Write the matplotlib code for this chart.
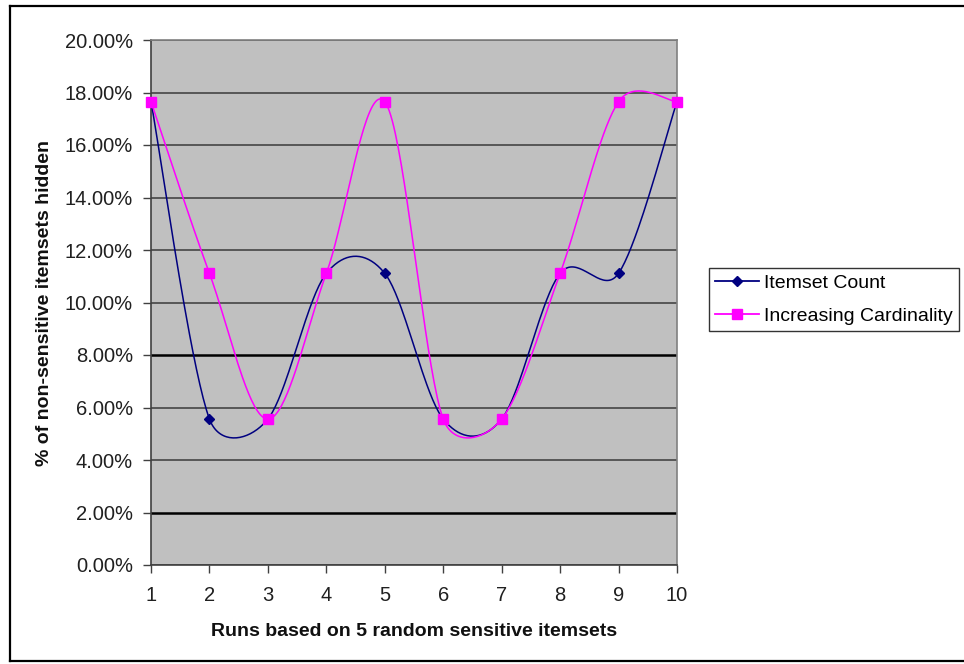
import matplotlib
import numpy as np

matplotlib.use("Agg")
import matplotlib.pyplot as plt  # noqa: E402
from matplotlib.lines import Line2D  # noqa: E402
from matplotlib.ticker import FuncFormatter, MultipleLocator  # noqa: E402

runs = [1, 2, 3, 4, 5, 6, 7, 8, 9, 10]
itemset_count = [17.65, 5.56, 5.56, 11.11, 11.11, 5.56, 5.56, 11.11, 11.11, 17.65]
increasing_cardinality = [17.65, 11.11, 5.56, 11.11, 17.65, 5.56, 5.56, 11.11, 17.65, 17.65]
series_names = ["Itemset Count", "Increasing Cardinality"]
x_label = "Runs based on 5 random sensitive itemsets"
y_label = "% of non-sensitive itemsets hidden"

BLUE = "#000080"
MAGENTA = "#FF00FF"

plt.rcParams["font.family"] = ["Liberation Sans", "DejaVu Sans"]


def excel_smooth(ax, xs, ys, steps=40):
    # Excel-like smoothed line: cubic Bezier in screen space, control arm
    # = 1/6 of the neighbour chord, capped at half the segment length
    pts = ax.transData.transform(np.column_stack([xs, ys]))
    n = len(pts)
    curve = [pts[0]]
    ts = np.linspace(0, 1, steps)[1:, None]
    for i in range(n - 1):
        p0 = pts[max(i - 1, 0)]
        p1 = pts[i]
        p2 = pts[i + 1]
        p3 = pts[min(i + 2, n - 1)]
        d12 = np.hypot(*(p2 - p1))
        arms = []
        for arm in ((p2 - p0) / 6.0, (p3 - p1) / 6.0):
            length = np.hypot(*arm)
            if length > d12 / 2:
                arm = arm * (d12 / 2) / length
            arms.append(arm)
        c1 = p1 + arms[0]
        c2 = p2 - arms[1]
        seg = ((1 - ts) ** 3) * p1 + 3 * ((1 - ts) ** 2) * ts * c1 \
            + 3 * (1 - ts) * ts ** 2 * c2 + ts ** 3 * p2
        curve.extend(seg)
    curve = np.array(curve)
    return ax.transData.inverted().transform(curve).T


fig = plt.figure(figsize=(9.64, 6.64), dpi=100)
ax = fig.add_axes([151 / 964, 1 - 565 / 664, 526 / 964, 525 / 664])
ax.set_facecolor("#C0C0C0")
ax.set_xlim(1, 10)
ax.set_ylim(0, 20)

ax.yaxis.set_major_locator(MultipleLocator(2))
ax.xaxis.set_major_locator(MultipleLocator(1))
ax.yaxis.set_major_formatter(FuncFormatter(lambda v, _: f"{v:.2f}%"))
ax.xaxis.set_major_formatter(FuncFormatter(lambda v, _: f"{int(v)}"))

ax.set_axisbelow(True)
ax.yaxis.grid(True, color="#3a3a3a", linewidth=1.1)
for value, line in zip(ax.get_yticks(), ax.get_ygridlines()):
    if abs(value - 2) < 1e-6 or abs(value - 8) < 1e-6:
        line.set_color("#000000")
        line.set_linewidth(1.8)

for name in ("top", "right"):
    ax.spines[name].set_color("#808080")
    ax.spines[name].set_linewidth(1.2)
for name in ("left", "bottom"):
    ax.spines[name].set_color("#404040")
    ax.spines[name].set_linewidth(1.2)

ax.tick_params(axis="y", direction="out", length=6, width=1, pad=7,
               labelsize=14.5, labelcolor="#202020", color="#404040")
ax.tick_params(axis="x", direction="out", length=6, width=1, pad=9,
               labelsize=14.5, labelcolor="#202020", color="#404040")

for values, color, marker, size in (
    (itemset_count, BLUE, "D", 5),
    (increasing_cardinality, MAGENTA, "s", 7),
):
    sx, sy = excel_smooth(ax, runs, values)
    ax.plot(sx, sy, color=color, linewidth=1.1, clip_on=False, zorder=3)
    ax.plot(runs, values, linestyle="none", marker=marker, markersize=size,
            color=color, clip_on=False, zorder=4)

handles = [
    Line2D([], [], color=BLUE, marker="D", markersize=5, linewidth=1.3),
    Line2D([], [], color=MAGENTA, marker="s", markersize=7, linewidth=1.3),
]
legend = fig.legend(handles, series_names, loc="upper left",
                    bbox_to_anchor=(709 / 964, 1 - 268 / 664),
                    fontsize=14, frameon=True, fancybox=False,
                    edgecolor="#000000", handlelength=2.25, handletextpad=0.25,
                    borderpad=0.32, labelspacing=0.78, borderaxespad=0)
legend.get_frame().set_linewidth(1.0)

fig.text(414 / 964, 1 - 632 / 664, x_label, ha="center", va="center",
         fontsize=14, fontweight="bold", color="#101010")
fig.text(45 / 964, 1 - 303 / 664, y_label, ha="center", va="center",
         rotation=90, fontsize=14, fontweight="bold", color="#101010")

# outer chart border (right edge runs off the image)
for xs, ys in (
    ([10 / 964, 10 / 964], [1 - 6 / 664, 1 - 661 / 664]),
    ([10 / 964, 1.0], [1 - 6 / 664, 1 - 6 / 664]),
    ([10 / 964, 1.0], [1 - 661 / 664, 1 - 661 / 664]),
):
    fig.add_artist(Line2D(xs, ys, transform=fig.transFigure, color="#000000",
                          linewidth=1.6))

fig.savefig("out.png", dpi=100)
plt.close(fig)
